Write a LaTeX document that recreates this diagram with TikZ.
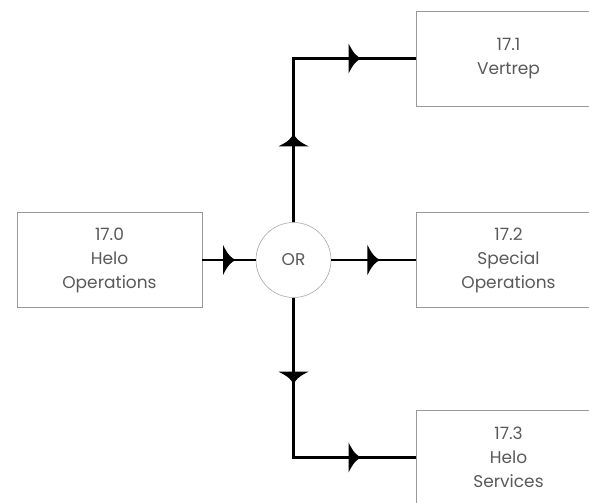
\documentclass[tikz,border=0pt]{standalone}
\usepackage{fontspec}
\setmainfont{Poppins}
\usepackage{tikz}
\usetikzlibrary{positioning}

\tikzset{
  box/.style={draw=black!40, line width=0.8pt, minimum width=185pt, minimum height=95pt,
    align=center, text=black!65, font=\fontsize{17}{24}\selectfont},
  orgate/.style={circle, draw=black!35, line width=0.6pt, minimum size=75pt, inner sep=0pt,
    text=black!65, font=\fontsize{17}{24}\selectfont},
  flow/.style={line width=2.6pt, line join=miter},
  tipat/.style={pos=#1, sloped, allow upside down},
  tipfig/.pic={\fill (-6,15) .. controls (-1,5) and (2,2) .. (7,0) .. controls (2,-2) and (-1,-5) .. (-6,-15) -- cycle;}
}

\begin{document}
\begin{tikzpicture}[x=1pt, y=1pt, node distance=2cm, on grid]
        \useasboundingbox (0,0) rectangle (589,503);
        \clip (0,0) rectangle (589,503);

        \node[box] (h170) at (109.5,243) {17.0\\Helo\\Operations};
        \node[orgate] (or) [right=184pt of h170] {OR};
        \node[box] (v171) [above right=201.5pt and 215pt of or] {17.1\\Vertrep};
        \node[box] (s172) [right=215pt of or] {17.2\\Special\\Operations};
        \node[box] (h173) [below right=197.5pt and 215pt of or] {17.3\\Helo\\Services};

        \draw[flow] (h170) -- pic[tipat=0.5] {tipfig} (or);
        \draw[flow] (or) -- pic[tipat=0.5] {tipfig} (s172);
        \draw[flow] (or) |- pic[tipat=0.25] {tipfig} pic[tipat=0.75] {tipfig} (v171);
        \draw[flow] (or) |- pic[tipat=0.25] {tipfig} pic[tipat=0.75] {tipfig} (h173);

    \end{tikzpicture}
\end{document}
